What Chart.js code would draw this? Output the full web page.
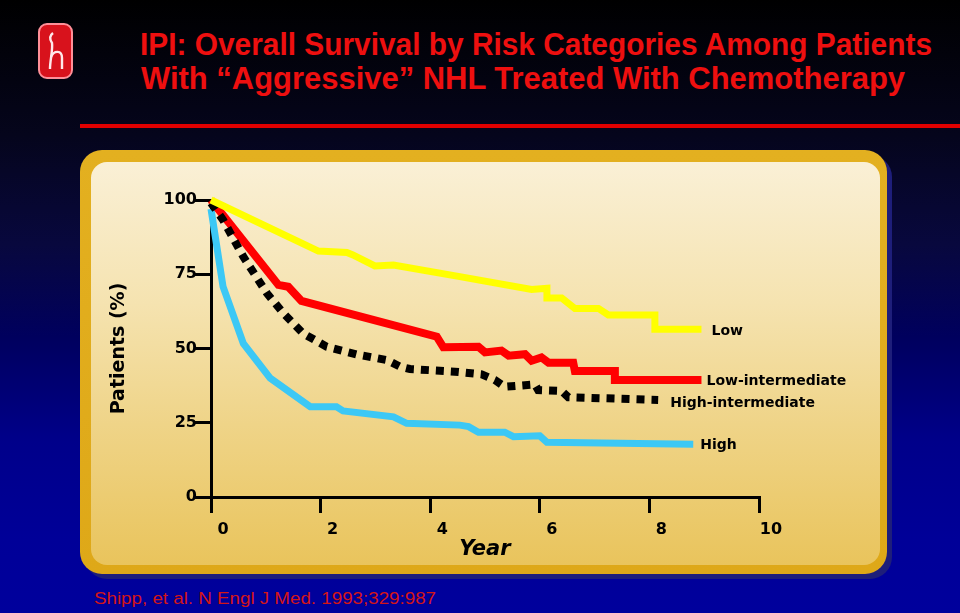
<!DOCTYPE html>
<html>
<head>
<meta charset="utf-8">
<script src="https://cdn.jsdelivr.net/npm/chart.js@4/dist/chart.umd.min.js"></script>
<style>
  html, body { margin: 0; padding: 0; }
  #slide { position: relative; width: 960px; height: 613px; overflow: hidden;
    background: linear-gradient(to bottom, #000000 0%, #05051c 22%, #08083e 40%, #00005e 55%, #00008a 72%, #000098 88%, #00009c 100%); }
  .fit { position: absolute; white-space: nowrap; transform-origin: 0 0; line-height: 1; }
  .title { font-family: "Liberation Sans Narrow", "Arial Narrow", "Liberation Sans", Arial, sans-serif; font-weight: bold; font-size: 31px; color: #ee0f0f; }
  #rule { position: absolute; left: 80px; top: 124px; width: 880px; height: 4px; background: #e00000; }
  #outer { position: absolute; left: 80px; top: 150px; width: 807px; height: 424px; border-radius: 22px;
    background: linear-gradient(to bottom, #e3b020, #dea818); box-shadow: 5px 5px 0 #1e1e7a; }
  #inner { position: absolute; left: 91px; top: 162px; width: 789px; height: 403px; border-radius: 16px;
    background: linear-gradient(to bottom, #faf0d6 0%, #f5e3b0 35%, #efd488 65%, #e9c45c 100%); }
  #foot { font-family: "Liberation Sans", Arial, sans-serif; font-size: 17px; color: #d41616; }
  canvas { position: absolute; left: 0; top: 0; }
</style>
</head>
<body>
<div id="slide">
  <svg style="position:absolute;left:37px;top:22px" width="38" height="58" viewBox="0 0 38 58">
    <rect x="2" y="2" width="33" height="54" rx="8" ry="8" fill="#d8121c" stroke="#ff8f98" stroke-width="2"/>
    <path d="M16 11 C 12 14, 13 18, 15 21 C 16 28, 13 38, 13 47" stroke="#ffe8ea" stroke-width="2.4" fill="none"/>
    <path d="M14 35 C 17 28, 25 28, 25 36 L 25 47" stroke="#ffe8ea" stroke-width="2.4" fill="none"/>
  </svg>
  <div class="fit title" id="t1" data-w="792" style="left:140px;top:29px">IPI: Overall Survival by Risk Categories Among Patients</div>
  <div class="fit title" id="t2" data-w="764" style="left:141px;top:63px">With “Aggressive” NHL Treated With Chemotherapy</div>
  <div id="rule"></div>
  <div id="outer"></div>
  <div id="inner"></div>
  <div class="fit" id="foot" data-w="342" style="left:94px;top:590px">Shipp, et al. N Engl J Med. 1993;329:987</div>
  <canvas id="c" width="960" height="613"></canvas>
</div>
<script>
// ---- data ----
const seriesNames = ["Low", "High-intermediate", "Low-intermediate", "High"];

const lowYears   = [0, 1.96, 2.48, 2.59, 2.99, 3.33, 4.54, 5.85, 6.13, 6.13, 6.40, 6.64, 7.07, 7.25, 8.10, 8.10, 8.95];
const lowValues  = [100, 82.8, 82.3, 81.5, 77.8, 78.1, 74.2, 69.9, 70.3, 67.0, 67.0, 63.5, 63.5, 61.3, 61.3, 56.5, 56.5];

const lowIntYears  = [0, 1.23, 1.41, 1.65, 4.12, 4.24, 4.88, 5.00, 5.30, 5.43, 5.73, 5.85, 6.03, 6.16, 6.61, 6.64, 7.37, 7.37, 8.95];
const lowIntValues = [100, 71.4, 70.8, 66.0, 54.0, 50.4, 50.6, 48.7, 49.3, 47.6, 48.1, 45.9, 47.0, 45.2, 45.2, 42.4, 42.4, 39.4, 39.4];

const highIntYears  = [0, 0.22, 0.59, 1.02, 1.32, 1.68, 2.11, 2.66, 3.21, 3.45, 3.63, 4.45, 4.94, 5.18, 5.36, 5.91, 5.97, 6.40, 6.52, 8.16];
const highIntValues = [99, 93.3, 80.9, 68.6, 61.9, 55.1, 50.6, 48.0, 46.1, 43.9, 43.1, 42.2, 41.3, 39.4, 37.1, 37.9, 36.0, 35.7, 33.6, 32.7];

const highYears  = [0, 0.22, 0.59, 1.08, 1.81, 2.29, 2.41, 3.33, 3.57, 4.54, 4.70, 4.88, 5.36, 5.52, 6.00, 6.13, 8.80];
const highValues = [97, 70.8, 51.7, 40.0, 30.4, 30.4, 29.0, 27.0, 24.8, 24.2, 23.7, 21.8, 21.8, 20.3, 20.6, 18.4, 17.8];

const xTicks = [0, 2, 4, 6, 8, 10];
const yTicks = [0, 25, 50, 75, 100];

// ---- build ----
function pts(xs, ys) { return xs.map((x, i) => ({ x: x, y: ys[i] })); }

// fit text widths
document.querySelectorAll('.fit').forEach(el => {
  const w = el.getBoundingClientRect().width;
  const target = +el.dataset.w;
  if (w > 0) el.style.transform = 'scaleX(' + (target / w) + ')';
});

const labelOffsets = {
  "Low": [10, 2],
  "Low-intermediate": [5, 1],
  "High-intermediate": [12, 3],
  "High": [7, 1]
};

const endLabels = {
  id: 'endLabels',
  afterDatasetsDraw(chart) {
    const ctx = chart.ctx;
    ctx.save();
    ctx.font = 'bold 14px "DejaVu Sans", Verdana, sans-serif';
    ctx.fillStyle = '#000';
    ctx.textBaseline = 'middle';
    ctx.textAlign = 'left';
    chart.data.datasets.forEach((ds, i) => {
      const meta = chart.getDatasetMeta(i);
      const last = meta.data[meta.data.length - 1];
      const off = labelOffsets[ds.label] || [8, 0];
      ctx.fillText(ds.label, last.x + off[0], last.y + off[1]);
    });
    ctx.restore();
  }
};

const tickFont = { family: '"DejaVu Sans", Verdana, sans-serif', weight: 'bold', size: 16 };

new Chart(document.getElementById('c'), {
  type: 'line',
  data: {
    datasets: [
      { label: seriesNames[0], data: pts(lowYears, lowValues), borderColor: '#ffff00', borderWidth: 7, order: 1 },
      { label: seriesNames[1], data: pts(highIntYears, highIntValues), borderColor: '#000000', borderWidth: 8, borderDash: [8, 7], borderCapStyle: 'butt', order: 2 },
      { label: seriesNames[2], data: pts(lowIntYears, lowIntValues), borderColor: '#ff0000', borderWidth: 8, order: 3 },
      { label: seriesNames[3], data: pts(highYears, highValues), borderColor: '#3cc8f5', borderWidth: 7, order: 4 }
    ].map(d => Object.assign({ pointRadius: 0, tension: 0, fill: false, clip: false, borderJoinStyle: 'miter' }, d))
  },
  options: {
    responsive: false,
    devicePixelRatio: 1,
    animation: false,
    layout: { padding: { left: 104, top: 200, right: 201, bottom: 47 } },
    plugins: { legend: { display: false }, tooltip: { enabled: false } },
    scales: {
      x: {
        type: 'linear', position: 'bottom', min: 0, max: 10,
        afterFit: s => { s.height = 69; },
        afterBuildTicks: s => { s.ticks = xTicks.map(v => ({ value: v })); },
        ticks: { color: '#000', font: tickFont, padding: 7, labelOffset: 12, maxRotation: 0, autoSkip: false },
        grid: { drawOnChartArea: false, drawTicks: true, tickLength: 16, color: '#000', lineWidth: 3 },
        border: { color: '#000', width: 3 },
        title: { display: true, text: 'Year', color: '#000',
          font: { family: '"DejaVu Sans", Verdana, sans-serif', weight: 'bold', style: 'italic', size: 21 },
          padding: { top: 0, bottom: 4 } }
      },
      y: {
        type: 'linear', position: 'left', min: 0, max: 100,
        afterFit: s => { s.width = 107; },
        afterBuildTicks: s => { s.ticks = yTicks.map(v => ({ value: v })); },
        ticks: { color: '#000', font: tickFont, padding: -2 },
        grid: { drawOnChartArea: false, drawTicks: true, tickLength: 16, color: '#000', lineWidth: 3 },
        border: { color: '#000', width: 3 },
        title: { display: true, text: 'Patients (%)', color: '#000',
          font: { family: '"DejaVu Sans", Verdana, sans-serif', weight: 'bold', size: 19 },
          padding: { top: 4, bottom: 4 } }
      }
    }
  },
  plugins: [endLabels]
});
</script>
</body>
</html>
